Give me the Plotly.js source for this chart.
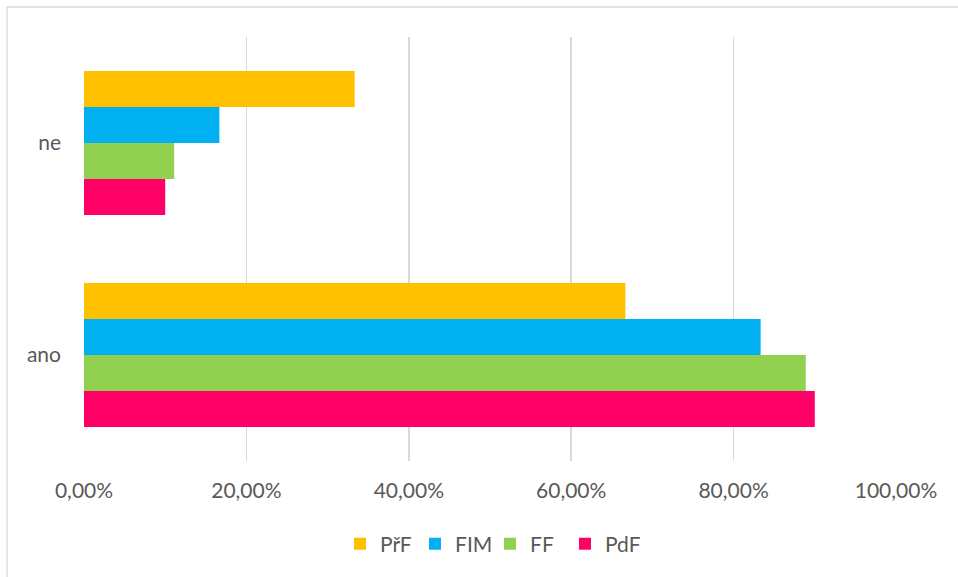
<!DOCTYPE html>
<html>
<head>
<meta charset="utf-8">
<script src="https://cdn.plot.ly/plotly-3.0.1.min.js"></script>
<style>html,body{margin:0;padding:0;background:#fff;}#chart{width:958px;height:577px;}</style>
</head>
<body>
<div id="chart"></div>
<script>
// Data
const categories = ['ano', 'ne'];
const seriesNames = ['PdF', 'FF', 'FIM', 'PřF'];
const valuesPdF = [0.90, 0.10];
const valuesFF = [0.8889, 0.1111];
const valuesFIM = [0.8333, 0.1667];
const valuesPrF = [0.6667, 0.3333];
const tickValues = [0, 0.2, 0.4, 0.6, 0.8, 1.0];

const colors = {PdF: '#FF0066', FF: '#92D050', FIM: '#00B0F0', 'PřF': '#FFC000'};
const seriesValues = [valuesPdF, valuesFF, valuesFIM, valuesPrF];

const traces = seriesNames.map((name, i) => ({
  type: 'bar',
  orientation: 'h',
  name: name,
  y: categories,
  x: seriesValues[i],
  marker: {color: colors[name], line: {width: 0}},
  hoverinfo: 'x+name'
}));

const W = 958, H = 577, L = 84, R = 62, T = 37, B = 116;
const pw = W - L - R, ph = H - T - B;
const px = v => (v - L) / pw;
const py = v => (H - B - v) / ph;

const layout = {
  width: W, height: H,
  margin: {l: L, r: R, t: T, b: B, pad: 0},
  paper_bgcolor: '#ffffff',
  plot_bgcolor: '#ffffff',
  separators: ',.',
  font: {family: 'Lato, "Open Sans", sans-serif', size: 21, color: '#595959'},
  barmode: 'group',
  bargap: 0.32,
  bargroupgap: 0,
  xaxis: {
    range: [0, 1],
    tickvals: tickValues,
    tickformat: '.2%',
    showgrid: true,
    gridcolor: '#d9d9d9',
    gridwidth: 1.6,
    zeroline: false,
    showline: false,
    ticks: '',
    ticklabelstandoff: 15,
    fixedrange: true
  },
  yaxis: {
    type: 'category',
    showgrid: false,
    zeroline: false,
    showline: false,
    ticks: '',
    ticklabelstandoff: 22,
    fixedrange: true
  },
  showlegend: true,
  legend: {
    orientation: 'h',
    traceorder: 'reversed',
    x: 0.5, xanchor: 'center',
    y: py(544), yanchor: 'middle',
    font: {size: 21, color: '#595959'},
    itemwidth: 30,
    entrywidth: 30,
    entrywidthmode: 'pixels',
    bgcolor: 'rgba(0,0,0,0)'
  },
  shapes: [{
    type: 'rect', xref: 'paper', yref: 'paper',
    x0: px(7), x1: px(1000), y0: py(7), y1: py(620),
    line: {color: '#d9d9d9', width: 1.3},
    fillcolor: 'rgba(0,0,0,0)',
    layer: 'above'
  }]
};

Plotly.newPlot('chart', traces, layout, {displayModeBar: false, staticPlot: true});
</script>
</body>
</html>
